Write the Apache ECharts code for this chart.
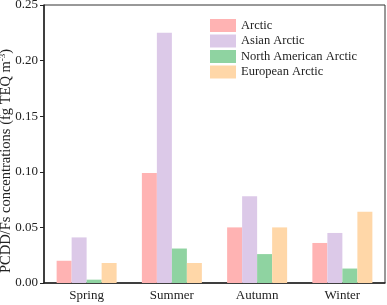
<!DOCTYPE html>
<html><head><meta charset="utf-8">
<script src="https://cdn.jsdelivr.net/npm/echarts@6/dist/echarts.min.js"></script>
<style>html,body{margin:0;padding:0;background:#fff}#c{width:387px;height:305px}</style>
</head><body><div id="c"></div>
<script>
var categories = ['Spring', 'Summer', 'Autumn', 'Winter'];
var arctic = [0.020, 0.099, 0.050, 0.036];
var asianArctic = [0.041, 0.225, 0.078, 0.045];
var northAmericanArctic = [0.003, 0.031, 0.026, 0.013];
var europeanArctic = [0.018, 0.018, 0.050, 0.064];
var seriesNames = ['Arctic', 'Asian Arctic', 'North American Arctic', 'European Arctic'];
var colors = ['#ffb3b3', '#dcc9e8', '#8fd3a1', '#ffd7a8'];
var font = 'Liberation Serif';
var chart = echarts.init(document.getElementById('c'));
function bar(name, data, color) {
  return { name: name, type: 'bar', data: data, barWidth: 15, barGap: '0%',
    itemStyle: { color: color } };
}
chart.setOption({
  animation: false,
  grid: { left: 44, right: 2, top: 5, bottom: 22, show: true, borderColor: '#333', borderWidth: 1,
    containLabel: false, outerBoundsMode: 'none' },
  legend: {
    orient: 'vertical', left: 210, top: 19, padding: 0, itemWidth: 26, itemHeight: 13, itemGap: 2.5,
    icon: 'rect',
    textStyle: { fontFamily: font, fontSize: 12.5, color: '#222' },
    data: seriesNames
  },
  xAxis: {
    type: 'category', data: categories,
    axisLine: { lineStyle: { color: '#222', width: 1.5 } },
    axisTick: { alignWithLabel: true, length: 4, lineStyle: { color: '#222' } },
    axisLabel: { fontFamily: font, fontSize: 13, color: '#222', margin: 6 }
  },
  yAxis: {
    type: 'value', min: 0, max: 0.25, interval: 0.05,
    name: 'PCDD/Fs concentrations (fg TEQ m{sup|-3})',
    nameLocation: 'middle', nameGap: 30, nameMoveOverlap: false,
    nameTextStyle: { fontFamily: font, fontSize: 14.5, color: '#222', padding: [0, 34, 0, 0],
      rich: { sup: { fontFamily: font, fontSize: 9, color: '#222', verticalAlign: 'top', padding: [0, 0, 7, 0] } } },
    axisLine: { show: true, lineStyle: { color: '#222', width: 1.5 } },
    axisTick: { show: true, length: 4, lineStyle: { color: '#222' } },
    axisLabel: { fontFamily: font, fontSize: 13, color: '#222', margin: 6,
      formatter: function (v) { return v.toFixed(2); } },
    splitLine: { show: false }
  },
  series: [
    bar(seriesNames[0], arctic, colors[0]),
    bar(seriesNames[1], asianArctic, colors[1]),
    bar(seriesNames[2], northAmericanArctic, colors[2]),
    bar(seriesNames[3], europeanArctic, colors[3])
  ]
});
</script></body></html>
